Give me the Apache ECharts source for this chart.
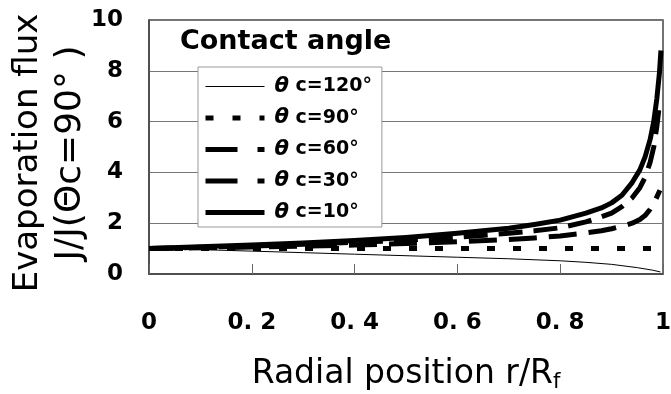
<!DOCTYPE html>
<html>
<head>
<meta charset="utf-8">
<script src="https://cdn.jsdelivr.net/npm/echarts@6/dist/echarts.min.js"></script>
<style>
  html, body { margin: 0; padding: 0; background: #fff; }
  #chart { width: 671px; height: 394px; }
</style>
</head>
<body>
<div id="chart"></div>
<script>
// Normalised evaporation flux J/J(θc=90°) against radial position r/Rf
const seriesNames = ['θc=120°', 'θc=90°', 'θc=60°', 'θc=30°', 'θc=10°'];

const rPos120 = [0, 0.1, 0.2, 0.3, 0.4, 0.5, 0.6, 0.7, 0.8, 0.85, 0.9, 0.95, 0.98, 0.995];
const flux120 = [1.0, 0.96, 0.9, 0.84, 0.78, 0.72, 0.66, 0.6, 0.52, 0.46, 0.38, 0.25, 0.15, 0.08];

const rPos90 = [0, 0.25, 0.5, 0.75, 0.995];
const flux90 = [1.0, 1.0, 1.0, 1.0, 1.0];

const rPos60 = [0, 0.1, 0.2, 0.3, 0.4, 0.5, 0.6, 0.7, 0.75, 0.8, 0.85, 0.88, 0.9, 0.92, 0.94, 0.955, 0.965, 0.975, 0.985, 0.994];
const flux60 = [1.0, 1.03, 1.06, 1.1, 1.14, 1.2, 1.27, 1.36, 1.42, 1.5, 1.62, 1.7, 1.78, 1.88, 2.0, 2.15, 2.3, 2.55, 2.9, 3.3];

const rPos30 = [0, 0.1, 0.2, 0.3, 0.4, 0.5, 0.6, 0.7, 0.75, 0.8, 0.85, 0.88, 0.9, 0.92, 0.94, 0.955, 0.965, 0.975, 0.982, 0.988, 0.992];
const flux30 = [1.0, 1.05, 1.1, 1.17, 1.25, 1.33, 1.45, 1.6, 1.7, 1.82, 2.05, 2.25, 2.4, 2.65, 3.0, 3.4, 3.8, 4.4, 5.0, 5.8, 6.5];

const rPos10 = [0, 0.1, 0.2, 0.3, 0.4, 0.5, 0.6, 0.7, 0.75, 0.8, 0.85, 0.88, 0.9, 0.92, 0.94, 0.955, 0.965, 0.975, 0.982, 0.988, 0.993, 0.996];
const flux10 = [1.0, 1.07, 1.14, 1.22, 1.32, 1.44, 1.6, 1.8, 1.95, 2.12, 2.4, 2.6, 2.8, 3.1, 3.6, 4.1, 4.6, 5.3, 6.0, 6.9, 7.9, 8.8];

const xTickLabels = ['0', '0. 2', '0. 4', '0. 6', '0. 8', '1'];
const yTickLabels = ['0', '2', '4', '6', '8', '10'];

const pairs = (xs, ys) => xs.map((x, i) => [x, ys[i]]);

// line width, dash pattern in the plot, and dash pattern in the legend key
const lineDefs = [
  { x: rPos120, y: flux120, width: 1, type: 'solid', key: 'solid' },
  { x: rPos90, y: flux90, width: 5, type: [8, 18], key: [8, 19] },
  { x: rPos60, y: flux60, width: 5, type: [28, 12], key: [32, 20] },
  { x: rPos30, y: flux30, width: 5, type: [24, 11], key: [32, 20] },
  { x: rPos10, y: flux10, width: 5, type: 'solid', key: 'solid' }
];

const chart = echarts.init(document.getElementById('chart'), null, { renderer: 'canvas' });

chart.setOption({
  backgroundColor: '#fff',
  animation: false,
  title: {
    text: 'Contact angle',
    left: 180,
    top: 28,
    padding: 0,
    textStyle: { fontFamily: 'DejaVu Sans', fontWeight: 'bold', fontSize: 27, color: '#000' }
  },
  grid: {
    left: 149, right: 8, top: 20, bottom: 120,
    outerBoundsMode: 'none',
    containLabel: false,
    show: true, borderColor: '#444', borderWidth: 1.5, backgroundColor: 'transparent'
  },
  legend: {
    orient: 'vertical',
    left: 198, top: 67,
    padding: [9, 10, 4, 5],
    itemWidth: 59, itemHeight: 24, itemGap: 10.5,
    backgroundColor: '#fff',
    borderColor: '#999', borderWidth: 1, borderRadius: 0,
    data: seriesNames.map((n, i) => ({
      name: n,
      lineStyle: { width: lineDefs[i].width, type: lineDefs[i].key, color: '#000', cap: 'butt' }
    })),
    itemStyle: { color: 'rgba(0,0,0,0)', borderWidth: 0 },
    formatter: name => '{t|θ}{r| ' + name.slice(1) + '}',
    textStyle: {
      rich: {
        t: { fontFamily: 'DejaVu Sans', fontStyle: 'italic', fontWeight: 'bold', fontSize: 21, color: '#000', padding: [0, 0, 0, 5] },
        r: { fontFamily: 'DejaVu Sans', fontWeight: 'bold', fontSize: 19, color: '#000' }
      }
    }
  },
  graphic: [
    {
      type: 'text', x: 28, y: 153, rotation: Math.PI / 2,
      style: { text: 'Evaporation flux', x: 0, y: 0, align: 'center', verticalAlign: 'middle',
               fontFamily: 'DejaVu Sans', fontSize: 34, fill: '#000' }
    },
    {
      type: 'text', x: 71, y: 153, rotation: Math.PI / 2,
      style: { text: 'J/J(Θc=90° )', x: 0, y: 0, align: 'center', verticalAlign: 'middle',
               fontFamily: 'DejaVu Sans', fontSize: 36, fill: '#000' }
    }
  ],
  xAxis: {
    type: 'value', min: 0, max: 1, interval: 0.2,
    name: '{a|Radial position r/R}{s|f}',
    nameLocation: 'middle', nameGap: 82,
    nameTextStyle: {
      rich: {
        a: { fontFamily: 'DejaVu Sans', fontSize: 33, color: '#000' },
        s: { fontFamily: 'DejaVu Sans', fontSize: 21, color: '#000', padding: [16, 0, 0, 0] }
      }
    },
    axisLine: { show: true, lineStyle: { color: '#444', width: 1.5 } },
    axisTick: { show: true, inside: true, length: 10, lineStyle: { color: '#666', width: 1 } },
    splitLine: { show: false },
    axisLabel: {
      margin: 38,
      fontFamily: 'DejaVu Sans', fontWeight: 'bold', fontSize: 23, color: '#000',
      formatter: v => xTickLabels[Math.round(v / 0.2)]
    }
  },
  yAxis: {
    type: 'value', min: 0, max: 10, interval: 2,
    axisLine: { show: true, lineStyle: { color: '#444', width: 1.5 } },
    axisTick: { show: false },
    splitLine: { show: true, lineStyle: { color: '#777', width: 1 } },
    axisLabel: {
      margin: 26,
      fontFamily: 'DejaVu Sans', fontWeight: 'bold', fontSize: 23, color: '#000',
      formatter: v => yTickLabels[Math.round(v / 2)]
    }
  },
  series: lineDefs.map((d, i) => ({
    name: seriesNames[i],
    type: 'line',
    data: pairs(d.x, d.y),
    symbol: 'none',
    smooth: false,
    lineStyle: { color: '#000', width: d.width, type: d.type, cap: 'butt', join: 'round' },
    z: 2 + i
  }))
});
</script>
</body>
</html>
